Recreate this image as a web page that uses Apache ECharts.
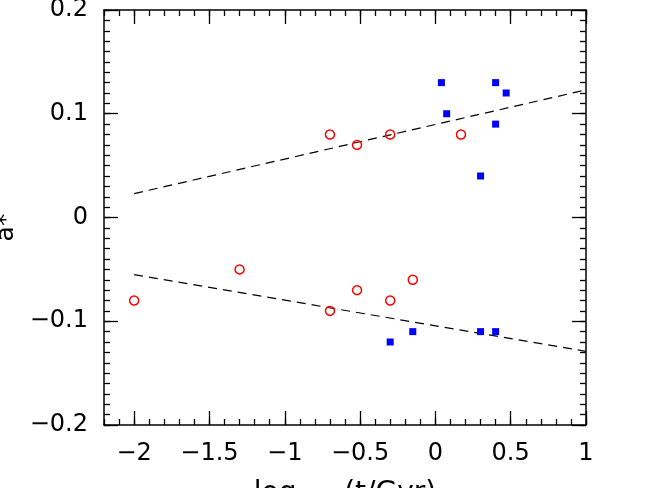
<!DOCTYPE html>
<html><head><meta charset="utf-8">
<script src="https://cdn.jsdelivr.net/npm/echarts@6/dist/echarts.min.js"></script>
<style>html,body{margin:0;padding:0;background:#fff}#c{width:654px;height:488px}</style>
</head><body><div id="c"></div>
<script>
// Red open circles
const redX = [-2.0, -1.3, -0.7, -0.52, -0.3, -0.15, -0.7, -0.52, -0.3, 0.17];
const redY = [-0.08, -0.05, -0.09, -0.07, -0.08, -0.06, 0.08, 0.07, 0.08, 0.08];
// Blue filled squares
const blueX = [0.04, 0.075, 0.4, 0.47, 0.4, 0.3, -0.3, -0.15, 0.3, 0.4];
const blueY = [0.13, 0.10, 0.13, 0.12, 0.09, 0.04, -0.12, -0.11, -0.11, -0.11];
// Dashed fit lines (endpoints)
const upperFitX = [-2, 1];
const upperFitY = [0.023, 0.123];
const lowerFitX = [-2, 1];
const lowerFitY = [-0.055, -0.129];
// Axis ticks
const xMajorTicks = [-2, -1.5, -1, -0.5, 0, 0.5, 1];
const yMajorTicks = [-0.2, -0.1, 0, 0.1, 0.2];
const xMin = -2.2, xMax = 1.0, yMin = -0.2, yMax = 0.2;

const xMinorTicks = [];
for (let i = -22; i <= 10; i++) xMinorTicks.push(+(i / 10).toFixed(2));
const yMinorTicks = [];
for (let i = -20; i <= 20; i++) yMinorTicks.push(+(i / 100).toFixed(3));

const FONT = 'DejaVu Sans';
const fmt = v => String(+v.toFixed(2)).replace('-', '\u2212');
const axLine = { color: '#000', width: 1.5 };
const tickStyle = { color: '#000', width: 1.3 };
const labelStyle = { fontSize: 24, color: '#000', fontFamily: FONT, fontWeight: 'normal' };

function ax(kind, pos, grid, ticks, len, labels, showLine) {
  const o = {
    type: 'value', position: pos, gridIndex: grid,
    min: kind === 'x' ? xMin : yMin, max: kind === 'x' ? xMax : yMax,
    offset: 0,
    axisLine: { show: showLine, onZero: false, lineStyle: axLine },
    axisTick: { show: true, inside: true, length: len, customValues: ticks, lineStyle: tickStyle },
    axisLabel: { show: false },
    splitLine: { show: false }
  };
  if (labels) {
    o.axisLabel = Object.assign({ show: true, customValues: kind === 'x' ? xMajorTicks : yMajorTicks,
      formatter: fmt, margin: kind === 'x' ? 17 : 16 }, labelStyle);
  }
  return o;
}

const xAxes = [
  ax('x', 'bottom', 0, xMajorTicks, 14, true, true),
  ax('x', 'top', 0, xMajorTicks, 14, false, true),
  ax('x', 'bottom', 1, xMinorTicks, 6, false, false),
  ax('x', 'top', 1, xMinorTicks, 6, false, false)
];
xAxes[0].name = '{n|log}{s|10}{n| (t/Gyr)}';
xAxes[0].nameLocation = 'middle';
xAxes[0].nameGap = 50;
xAxes[0].nameTextStyle = {
  color: '#000', fontFamily: FONT,
  rich: {
    n: { fontSize: 28, fontFamily: FONT, color: '#000' },
    s: { fontSize: 21, fontFamily: FONT, color: '#000', padding: [16, 10, 0, 2] }
  }
};
const yAxes = [
  ax('y', 'left', 0, yMajorTicks, 14, true, true),
  ax('y', 'right', 0, yMajorTicks, 14, false, true),
  ax('y', 'left', 1, yMinorTicks, 6, false, false),
  ax('y', 'right', 1, yMinorTicks, 6, false, false)
];
yAxes[0].name = 'a*';
yAxes[0].nameLocation = 'middle';
yAxes[0].nameRotate = 90;
yAxes[0].nameGap = 77;
yAxes[0].nameTextStyle = { color: '#000', fontFamily: FONT, fontSize: 25, padding: [0, 20, 0, 0] };

const zip = (a, b) => a.map((v, i) => [v, b[i]]);
const gridRect = { left: 104, right: 68, top: 10, bottom: 63, containLabel: false, outerBoundsMode: 'none' };

const chart = echarts.init(document.getElementById('c'), null, { renderer: 'canvas' });
chart.setOption({
  animation: false,
  backgroundColor: '#fff',
  grid: [Object.assign({}, gridRect), Object.assign({}, gridRect)],
  xAxis: xAxes,
  yAxis: yAxes,
  series: [
    { type: 'line', xAxisIndex: 0, yAxisIndex: 0, data: zip(upperFitX, upperFitY), symbol: 'none',
      lineStyle: { color: '#000', width: 1.2, type: [9, 6] }, z: 2 },
    { type: 'line', xAxisIndex: 0, yAxisIndex: 0, data: zip(lowerFitX, lowerFitY), symbol: 'none',
      lineStyle: { color: '#000', width: 1.2, type: [9, 6] }, z: 2 },
    { type: 'scatter', xAxisIndex: 0, yAxisIndex: 0, data: zip(redX, redY), symbol: 'circle', symbolSize: 9,
      itemStyle: { color: 'rgba(0,0,0,0)', borderColor: '#ff0000', borderWidth: 1.5, opacity: 1 }, z: 3 },
    { type: 'scatter', xAxisIndex: 0, yAxisIndex: 0, data: zip(blueX, blueY), symbol: 'rect', symbolSize: 7,
      itemStyle: { color: '#0000ff', opacity: 1 }, z: 3 }
  ]
});
</script>
</body></html>
